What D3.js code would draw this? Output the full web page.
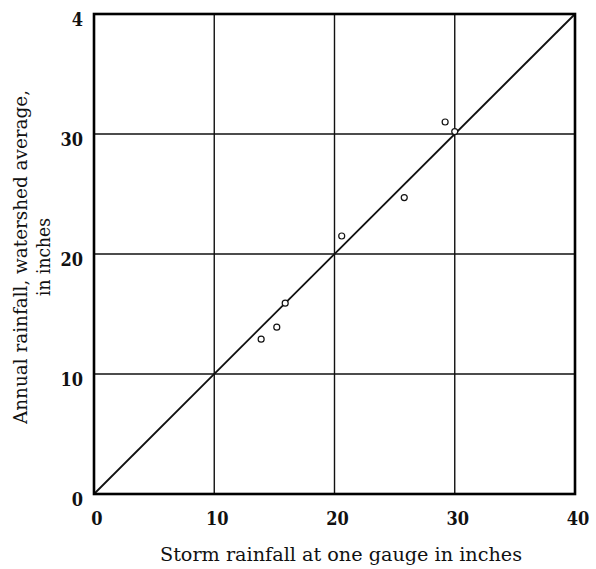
<!DOCTYPE html>
<html><head><meta charset="utf-8">
<script src="https://cdn.jsdelivr.net/npm/d3@7"></script>
<style>body{margin:0;background:#fff}svg{display:block}text{font-stretch:condensed}</style>
</head><body>
<script>
const xTicks = [0, 10, 20, 30, 40];
const xTickLabels = ["0", "10", "20", "30", "40"];
const yTicks = [0, 10, 20, 30, 40];
const yTickLabels = ["0", "10", "20", "30", "4"];
const stormRain = [13.9, 15.2, 15.9, 20.6, 25.8, 29.2, 30.0];
const annualRain = [12.9, 13.9, 15.9, 21.5, 24.7, 31.0, 30.2];
const lineX = [0, 40];
const lineY = [0, 40];

const W = 596, H = 569;
const m = {l: 94, r: 21, t: 14, b: 75};
const svg = d3.select("body").append("svg").attr("width", W).attr("height", H);
const x = d3.scaleLinear().domain([0, 40]).range([m.l, W - m.r]);
const y = d3.scaleLinear().domain([0, 40]).range([H - m.b, m.t]);
const font = "'DejaVu Serif', serif";

// grid
svg.append("g").selectAll("line").data(xTicks.slice(1, -1)).join("line")
  .attr("x1", d => x(d)).attr("x2", d => x(d)).attr("y1", y(0)).attr("y2", y(40))
  .attr("stroke", "#111").attr("stroke-width", 1.4);
svg.append("g").selectAll("line").data(yTicks.slice(1, -1)).join("line")
  .attr("y1", d => y(d)).attr("y2", d => y(d)).attr("x1", x(0)).attr("x2", x(40))
  .attr("stroke", "#111").attr("stroke-width", 1.4);

// diagonal
svg.append("line").attr("x1", x(lineX[0])).attr("y1", y(lineY[0]))
  .attr("x2", x(lineX[1])).attr("y2", y(lineY[1]))
  .attr("stroke", "#111").attr("stroke-width", 1.8);

// frame
svg.append("rect").attr("x", x(0)).attr("y", y(40))
  .attr("width", x(40) - x(0)).attr("height", y(0) - y(40))
  .attr("fill", "none").attr("stroke", "#000").attr("stroke-width", 2.6);

// points
svg.append("g").selectAll("circle").data(stormRain).join("circle")
  .attr("cx", d => x(d)).attr("cy", (d, i) => y(annualRain[i])).attr("r", 3)
  .attr("fill", "#fff").attr("stroke", "#111").attr("stroke-width", 1.2);

// tick labels
svg.append("g").selectAll("text").data(xTicks).join("text")
  .attr("x", d => x(d) + 3).attr("y", y(0) + 31)
  .attr("text-anchor", "middle").attr("font-family", font).attr("font-weight", "bold")
  .attr("font-size", 18).attr("fill", "#111").text((d, i) => xTickLabels[i]);
svg.append("g").selectAll("text").data(yTicks).join("text")
  .attr("x", x(0) - 11).attr("y", d => y(d) + 12)
  .attr("text-anchor", "end").attr("font-family", font).attr("font-weight", "bold")
  .attr("font-size", 18).attr("fill", "#111").text((d, i) => yTickLabels[i]);

// axis titles
svg.append("text").attr("x", 341).attr("y", 561)
  .attr("text-anchor", "middle").attr("font-family", font).attr("font-size", 19)
  .attr("textLength", 362).attr("lengthAdjust", "spacingAndGlyphs")
  .attr("fill", "#111").text("Storm rainfall at one gauge in inches");
const yg = svg.append("g").attr("transform", `translate(0,257) rotate(-90)`);
yg.append("text").attr("x", 0).attr("y", 27).attr("text-anchor", "middle")
  .attr("font-family", font).attr("font-size", 19).attr("fill", "#111")
  .attr("textLength", 334).attr("lengthAdjust", "spacingAndGlyphs")
  .text("Annual rainfall, watershed average,");
const y2 = yg.append("text").attr("x", 0).attr("y", 50).attr("text-anchor", "middle")
  .attr("font-family", font).attr("font-size", 19).attr("fill", "#111")
  .text("in inches");
</script>
</body></html>
